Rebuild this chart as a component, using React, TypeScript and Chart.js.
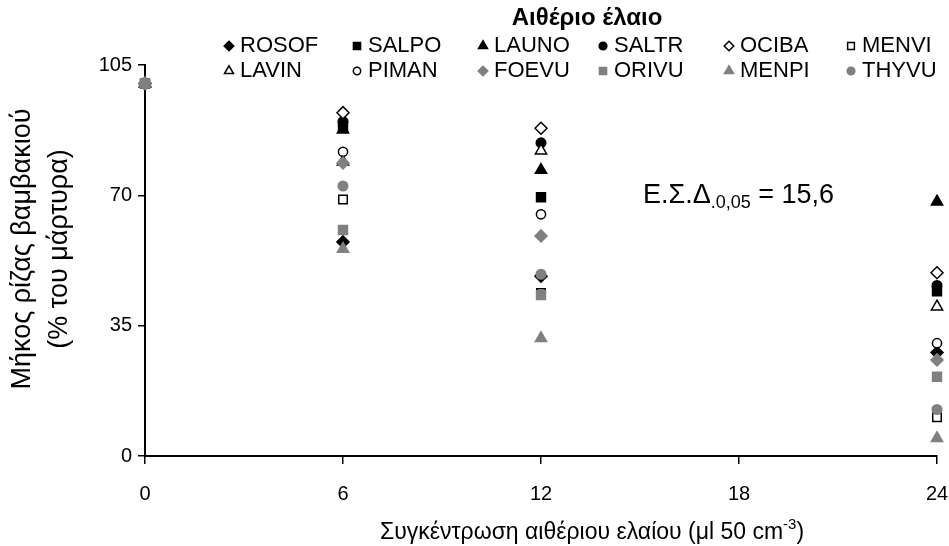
import React, { useEffect, useRef } from "react";
import { Chart, registerables } from "chart.js";
Chart.register(...registerables);

// ---- data ----
const concentrations = [0, 6, 12, 24];
const xTickValues = [0, 6, 12, 18, 24];
const yTickValues = [0, 35, 70, 105];
const oilNames = ["ROSOF", "SALPO", "LAUNO", "SALTR", "OCIBA", "MENVI", "LAVIN", "PIMAN", "FOEVU", "ORIVU", "MENPI", "THYVU"];
const ROSOF = [100, 57.5, 48.3, 27.8];
const SALPO = [100, 88.5, 69.5, 44.2];
const LAUNO = [100, 87.6, 76.8, 68.3];
const SALTR = [100, 89.8, 84.1, 45.8];
const OCIBA = [100, 92.2, 88.0, 49.2];
const MENVI = [100, 68.9, 43.8, 10.4];
const LAVIN = [100, 79.0, 82.0, 40.1];
const PIMAN = [100, 81.7, 64.9, 30.3];
const FOEVU = [100, 78.7, 59.1, 25.8];
const ORIVU = [100, 60.7, 43.2, 21.3];
const MENPI = [100, 55.6, 31.6, 4.8];
const THYVU = [100, 72.5, 48.8, 12.5];
const seriesValues = [ROSOF, SALPO, LAUNO, SALTR, OCIBA, MENVI, LAVIN, PIMAN, FOEVU, ORIVU, MENPI, THYVU];

const legendTitle = "Αιθέριο έλαιο";
const yTitleLines = ["Μήκος ρίζας βαμβακιού", "(% του μάρτυρα)"];
const xTitleMain = "Συγκέντρωση αιθέριου ελαίου (μl 50 cm";
const xTitleSup = "-3";
const xTitleEnd = ")";
const lsdMain = "Ε.Σ.Δ";
const lsdSub = ".0,05";
const lsdEnd = " = 15,6";

// ---- styles ----
const FONT = "'Liberation Sans', Arial, sans-serif";
const BLACK = "#000000";
const GREY = "#808080";
type Sty = { shape: string; fill: string; stroke: string; r: number };
const styles: Sty[] = [
  { shape: "diamond", fill: BLACK, stroke: BLACK, r: 6 },
  { shape: "square", fill: BLACK, stroke: BLACK, r: 6.3 },
  { shape: "triangle", fill: BLACK, stroke: BLACK, r: 6.5 },
  { shape: "circle", fill: BLACK, stroke: BLACK, r: 4.8 },
  { shape: "diamond", fill: "#ffffff", stroke: BLACK, r: 6 },
  { shape: "square", fill: "#ffffff", stroke: BLACK, r: 6 },
  { shape: "triangle", fill: "#ffffff", stroke: BLACK, r: 6.5 },
  { shape: "circle", fill: "#ffffff", stroke: BLACK, r: 4.6 },
  { shape: "diamond", fill: GREY, stroke: GREY, r: 6 },
  { shape: "square", fill: GREY, stroke: GREY, r: 6.3 },
  { shape: "triangle", fill: GREY, stroke: GREY, r: 6.5 },
  { shape: "circle", fill: GREY, stroke: GREY, r: 4.8 },
];
const chartJsShape: Record<string, string> = { diamond: "rectRot", square: "rect", triangle: "triangle", circle: "circle" };

function drawMarker(ctx: CanvasRenderingContext2D, s: Sty, x: number, y: number, scale = 1) {
  const r = s.r * scale;
  ctx.save();
  ctx.beginPath();
  if (s.shape === "diamond") {
    ctx.moveTo(x, y - r); ctx.lineTo(x + r, y); ctx.lineTo(x, y + r); ctx.lineTo(x - r, y); ctx.closePath();
  } else if (s.shape === "square") {
    const h = r * Math.SQRT1_2;
    ctx.rect(x - h, y - h, 2 * h, 2 * h);
  } else if (s.shape === "triangle") {
    const side = (3 * r) / Math.sqrt(3);
    const height = (side * Math.sqrt(3)) / 2;
    ctx.moveTo(x - side / 2, y + height / 3);
    ctx.lineTo(x + side / 2, y + height / 3);
    ctx.lineTo(x, y - (2 * height) / 3);
    ctx.closePath();
  } else {
    ctx.arc(x, y, r, 0, Math.PI * 2);
  }
  ctx.fillStyle = s.fill;
  ctx.fill();
  ctx.lineWidth = 1.5;
  ctx.strokeStyle = s.stroke;
  ctx.stroke();
  ctx.restore();
}

const legendCols = [229, 357, 483, 603, 729, 851];
const legendRows = [45, 70];

const textPlugin = {
  id: "texts",
  afterDraw(chart: any) {
    const ctx: CanvasRenderingContext2D = chart.ctx;
    ctx.save();
    ctx.fillStyle = BLACK;
    // legend title
    ctx.font = `bold 24px ${FONT}`;
    ctx.textAlign = "center";
    ctx.textBaseline = "middle";
    ctx.fillText(legendTitle, 587, 18);
    // legend items
    ctx.font = `22px ${FONT}`;
    ctx.textAlign = "left";
    oilNames.forEach((name, i) => {
      const col = i % 6;
      const row = Math.floor(i / 6);
      const x = legendCols[col];
      const y = legendRows[row];
      drawMarker(ctx, styles[i], x, y + 1, 0.8);
      ctx.fillStyle = BLACK;
      ctx.fillText(name, x + 11, y + 1);
    });
    // y title
    ctx.save();
    ctx.translate(0, 249);
    ctx.rotate(-Math.PI / 2);
    ctx.font = `27px ${FONT}`;
    ctx.textAlign = "center";
    ctx.textBaseline = "middle";
    ctx.fillText(yTitleLines[0], 0, 23);
    ctx.fillText(yTitleLines[1], 0, 60);
    ctx.restore();
    // x title
    const xf = 23;
    const sf = 15;
    ctx.font = `${xf}px ${FONT}`;
    ctx.textBaseline = "alphabetic";
    const wMain = ctx.measureText(xTitleMain).width;
    ctx.font = `${sf}px ${FONT}`;
    const wSup = ctx.measureText(xTitleSup).width;
    ctx.font = `${xf}px ${FONT}`;
    const wEnd = ctx.measureText(xTitleEnd).width;
    const total = wMain + wSup + wEnd;
    const x0 = 592 - total / 2;
    const yb = 539;
    ctx.textAlign = "left";
    ctx.fillText(xTitleMain, x0, yb);
    ctx.font = `${sf}px ${FONT}`;
    ctx.fillText(xTitleSup, x0 + wMain, yb - 10);
    ctx.font = `${xf}px ${FONT}`;
    ctx.fillText(xTitleEnd, x0 + wMain + wSup, yb);
    // LSD annotation
    let ax = 643;
    const ab = 203;
    ctx.font = `27px ${FONT}`;
    ctx.fillText(lsdMain, ax, ab);
    ax += ctx.measureText(lsdMain).width;
    ctx.font = `18px ${FONT}`;
    ctx.fillText(lsdSub, ax, ab + 5);
    ax += ctx.measureText(lsdSub).width;
    ctx.font = `27px ${FONT}`;
    ctx.fillText(lsdEnd, ax, ab);
    ctx.restore();
  },
};

export default function App() {
  const ref = useRef<HTMLCanvasElement>(null);
  useEffect(() => {
    document.body.style.margin = "0";
    const canvas = ref.current!;
    const datasets = oilNames.map((name, i) => ({
      label: name,
      data: concentrations.map((c, j) => ({ x: c, y: seriesValues[i][j] })),
      showLine: false,
      clip: false,
      pointStyle: chartJsShape[styles[i].shape],
      pointRadius: styles[i].r,
      pointBackgroundColor: styles[i].fill,
      pointBorderColor: styles[i].stroke,
      pointBorderWidth: 1.5,
      order: 12 - i,
    }));
    const chart = new Chart(canvas, {
      type: "scatter",
      data: { datasets },
      options: {
        animation: false,
        responsive: false,
        maintainAspectRatio: false,
        layout: { padding: { top: 65, right: 12, left: 0, bottom: 0 } },
        plugins: { legend: { display: false }, tooltip: { enabled: false } },
        scales: {
          x: {
            type: "linear",
            min: 0,
            max: 24,
            afterBuildTicks: (s: any) => { s.ticks = xTickValues.map((v) => ({ value: v })); },
            afterFit: (s: any) => { s.height = 90; s.paddingLeft = 0; s.paddingRight = 0; },
            ticks: { color: BLACK, font: { family: FONT, size: 20 }, padding: 18, maxRotation: 0 },
            grid: { display: true, drawOnChartArea: false, drawTicks: true, tickLength: 8, color: BLACK, lineWidth: 1.5 },
            border: { display: true, color: BLACK, width: 2 },
          },
          y: {
            type: "linear",
            min: 0,
            max: 105,
            afterBuildTicks: (s: any) => { s.ticks = yTickValues.map((v) => ({ value: v })); },
            afterFit: (s: any) => { s.width = 145; s.paddingTop = 0; s.paddingBottom = 0; },
            ticks: { color: BLACK, font: { family: FONT, size: 20 }, padding: 6 },
            grid: { display: true, drawOnChartArea: false, drawTicks: true, tickLength: 7, color: BLACK, lineWidth: 1.5 },
            border: { display: true, color: BLACK, width: 2 },
          },
        },
      },
      plugins: [textPlugin],
    } as any);
    return () => chart.destroy();
  }, []);
  return <canvas ref={ref} width={949} height={546} style={{ display: "block", width: 949, height: 546 }} />;
}
